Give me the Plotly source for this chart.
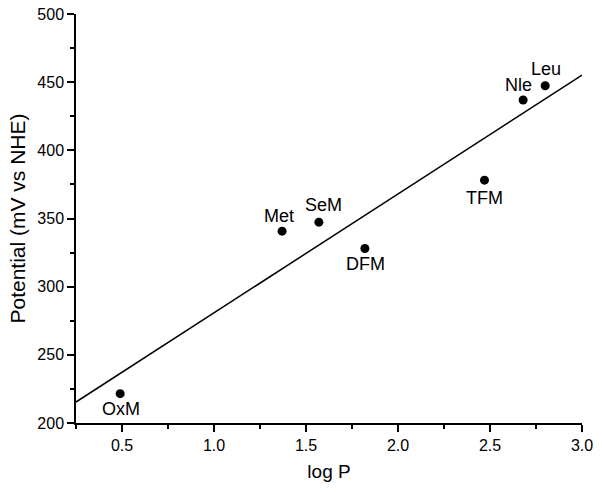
import plotly.graph_objects as go

# Data
names = ["OxM", "Met", "SeM", "DFM", "TFM", "Nle", "Leu"]
log_p = [0.49, 1.37, 1.57, 1.82, 2.47, 2.68, 2.80]
potential = [221.5, 340.7, 347.3, 328.0, 378.1, 436.9, 447.4]

# Linear fit line endpoints
fit_x = [0.25, 3.0]
fit_y = [215.4, 455.2]

# Label offsets in pixels (style)
label_shift = {
    "OxM": (1, -15),
    "Met": (-3, 15),
    "SeM": (5, 17),
    "DFM": (1, -16),
    "TFM": (0, -18),
    "Nle": (-5, 15),
    "Leu": (1, 17),
}

FONT = "Liberation Sans, Arial, sans-serif"

fig = go.Figure()
fig.add_trace(go.Scatter(x=fit_x, y=fit_y, mode="lines",
                         line=dict(color="black", width=1.5), hoverinfo="skip"))
fig.add_trace(go.Scatter(x=log_p, y=potential, mode="markers",
                         marker=dict(color="black", size=9)))

for n, x, y in zip(names, log_p, potential):
    dx, dy = label_shift[n]
    fig.add_annotation(x=x, y=y, text=n, showarrow=False, xshift=dx, yshift=dy,
                       font=dict(family=FONT, size=18, color="black"))

axis_common = dict(
    showline=True, linecolor="black", linewidth=1.5, mirror=False,
    showgrid=False, zeroline=False, automargin=False,
    ticks="outside", ticklen=7, tickwidth=1.5, tickcolor="black",
    tickfont=dict(family=FONT, size=16, color="black"),
)

fig.update_xaxes(range=[0.25, 3.0], dtick=0.5, tick0=0, tickformat=".1f",
                 minor=dict(ticks="outside", ticklen=4, tickwidth=1.5,
                            tickcolor="black", dtick=0.25, tick0=0),
                 title=dict(text="log P", font=dict(family=FONT, size=19, color="black"),
                            standoff=12),
                 **axis_common)
fig.update_yaxes(range=[200, 500], dtick=50, tick0=0,
                 minor=dict(ticks="outside", ticklen=4, tickwidth=1.5,
                            tickcolor="black", dtick=25, tick0=0),
                 title=dict(text="Potential (mV vs NHE)",
                            font=dict(family=FONT, size=21, color="black"),
                            standoff=6),
                 **axis_common)

fig.update_layout(
    width=602, height=494,
    margin=dict(l=76, r=20, t=14, b=71),
    plot_bgcolor="white", paper_bgcolor="white",
    showlegend=False,
    font=dict(family=FONT, color="black"),
)

# Remove the default page margin so the figure fills the window exactly.
fig.write_html("out.html",
               config={"displayModeBar": False},
               post_script="document.body.style.margin='0';document.body.style.overflow='hidden';")
